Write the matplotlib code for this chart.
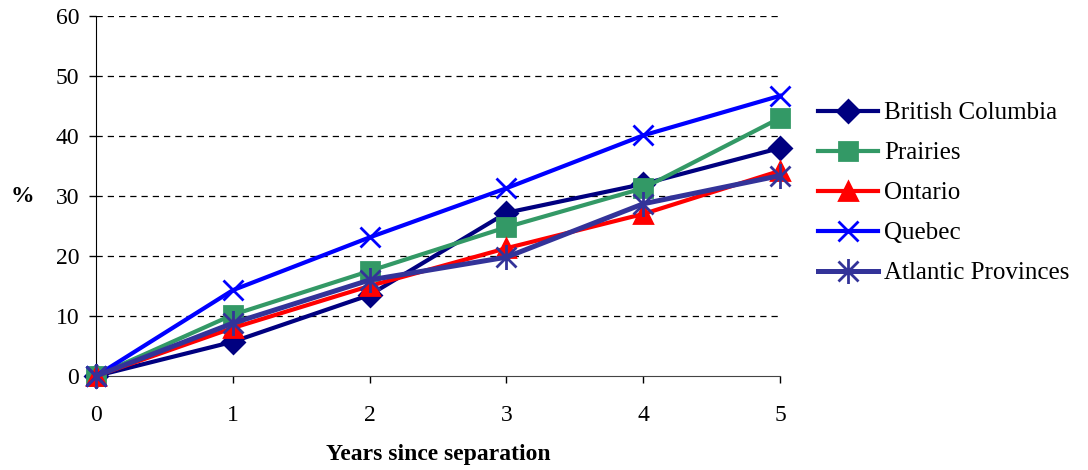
import matplotlib.pyplot as plt
from matplotlib.path import Path

# years since separation and cumulative % by region
years = [0, 1, 2, 3, 4, 5]
british_columbia = [0, 5.7, 13.5, 27.2, 32.0, 38.0]
prairies = [0, 10.2, 17.5, 24.8, 31.3, 43.0]
ontario = [0, 8.0, 15.0, 21.3, 27.0, 34.2]
quebec = [0, 14.3, 23.1, 31.3, 40.1, 46.7]
atlantic = [0, 8.8, 16.0, 19.8, 28.7, 33.4]

labels = ['British Columbia', 'Prairies', 'Ontario', 'Quebec', 'Atlantic Provinces']
colors = ['#000080', '#339966', '#FF0000', '#0000FF', '#333399']

# Excel style asterisk: an X with a vertical bar through it
asterisk = Path([(-1, -1), (1, 1), (-1, 1), (1, -1), (0, -1.25), (0, 1.25)],
                [Path.MOVETO, Path.LINETO, Path.MOVETO, Path.LINETO, Path.MOVETO, Path.LINETO])
markers = ['D', 's', '^', 'x', asterisk]
msizes = [11, 13, 13, 14, 18]

plt.rcParams['font.family'] = ['Liberation Serif', 'DejaVu Serif']

fig = plt.figure(figsize=(10.88, 4.70), dpi=100)
ax = fig.add_axes([0.0882, 0.2, 0.717 - 0.0882, 0.766])

series = [british_columbia, prairies, ontario, quebec, atlantic]
for vals, lab, col, mk, ms in zip(series, labels, colors, markers, msizes):
    lw = 3.6 if lab == 'Atlantic Provinces' else 3.0
    ax.plot(years, vals, color=col, lw=lw, marker=mk, markersize=ms,
            markeredgewidth=2, markeredgecolor=col, markerfacecolor=col,
            label=lab, clip_on=False, zorder=3)

ax.set_xlim(0, 5)
ax.set_ylim(0, 60)
ax.set_xticks(years)
ax.set_yticks(range(0, 61, 10))
ax.tick_params(axis='both', labelsize=17, direction='out', length=5, width=1, colors='black')
ax.tick_params(axis='x', pad=16)
ax.tick_params(axis='y', pad=7)

# dashed horizontal gridlines
for y in range(10, 61, 10):
    ax.axhline(y, color='black', lw=0.9, ls=(0, (5, 4)), zorder=1)

ax.spines['top'].set_visible(False)
ax.spines['right'].set_visible(False)
ax.spines['left'].set_color('black')
ax.spines['bottom'].set_color('#444444')

ax.set_xlabel('Years since separation', fontsize=17, fontweight='bold', labelpad=13)
fig.text(22 / 1088, 1 - 197 / 470, '%', fontsize=17, fontweight='bold', ha='center', va='center')

ax.legend(loc='center left', bbox_to_anchor=(1.0227, 0.508), frameon=False, fontsize=18,
          handlelength=2.4, labelspacing=0.7, handletextpad=0.24)

fig.savefig('out.png', dpi=100)
